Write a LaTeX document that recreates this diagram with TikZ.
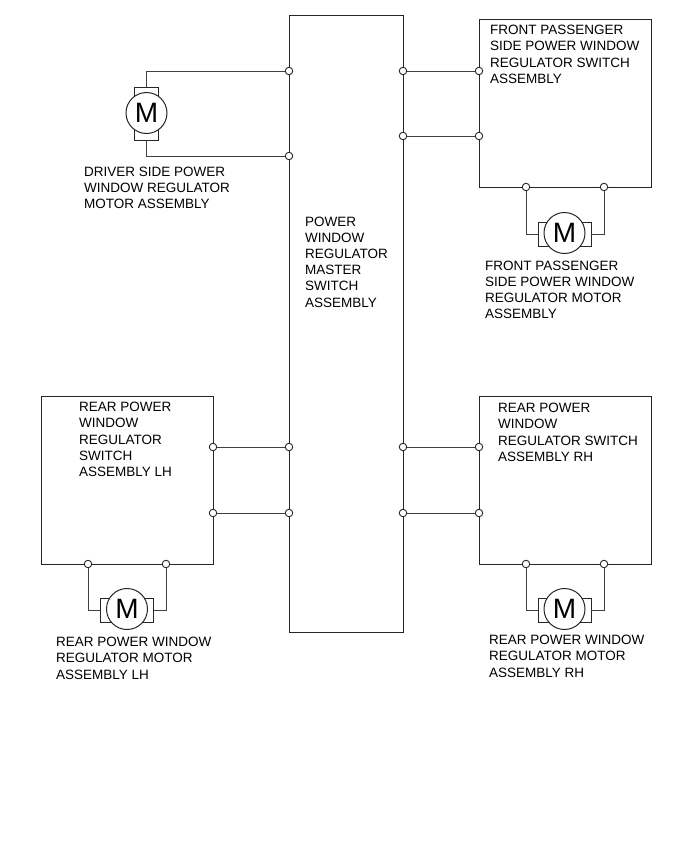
\documentclass[tikz,border=0pt]{standalone}
\usepackage{fontspec}
\setmainfont{Liberation Sans}
\usetikzlibrary{positioning}

\begin{document}
\begin{tikzpicture}[x=1pt, y=-1pt]
\tikzstyle{unit}=[draw=black!85, line width=1pt, inner sep=0pt, outer sep=0pt];
\tikzstyle{term}=[circle, draw=black!85, fill=white, line width=0.9pt, minimum size=7.5pt, inner sep=0pt, outer sep=0pt];
\tikzstyle{wire}=[black!75, line width=0.9pt];
\tikzstyle{brush}=[unit, fill=white, minimum width=53pt, minimum height=24pt];
\tikzstyle{vbrush}=[unit, fill=white, minimum width=24pt, minimum height=53pt];
\tikzstyle{motor}=[circle, draw=black!85, fill=white, line width=1pt, minimum size=41pt, inner sep=0pt, font=\fontsize{28}{28}\selectfont];
\tikzstyle{caption}=[anchor=north west, align=left, inner sep=0pt, font=\fontsize{13.5}{16.2}\selectfont];
\useasboundingbox (0,0) rectangle (691,854);

\node[unit, minimum width=114pt, minimum height=617pt] (master) at (346,323.5) {};
\node[unit, minimum width=172pt, minimum height=168pt] (front) at (565,103) {};
\node[unit, minimum width=172pt, minimum height=168pt] (rearl) at (127,480) {};
\node[unit, minimum width=172pt, minimum height=168pt] (rearr) at (565,480) {};

% motors
\node[vbrush] (drvb) at (146.5,113.5) {};
\node[motor] (drvm) at (146.5,113) {M};
\node[brush] (frontb) at (564.5,234) {};
\node[motor] (frontm) at (564.5,233) {M};
\node[brush] (rearlb) at (127,610) {};
\node[motor] (rearlm) at (127,609) {M};
\node[brush] (rearrb) at (564.5,610) {};
\node[motor] (rearrm) at (564.5,609) {M};

% terminals
\node[term] (ml1) at (289,71) {};
\node[term] (ml2) at (289,156) {};
\node[term] (ml3) at (289,447) {};
\node[term] (ml4) at (289,513) {};
\node[term] (mr1) at (403,71) {};
\node[term] (mr2) at (403,136) {};
\node[term] (mr3) at (403,447) {};
\node[term] (mr4) at (403,513) {};
\node[term] (front1) at (479,71) {};
\node[term] (front2) at (479,136) {};
\node[term] (front3) at (526,187) {};
\node[term] (front4) at (604,187) {};
\node[term] (rearl1) at (213,447) {};
\node[term] (rearl2) at (213,513) {};
\node[term] (rearl3) at (88,564) {};
\node[term] (rearl4) at (166,564) {};
\node[term] (rearr1) at (479,447) {};
\node[term] (rearr2) at (479,513) {};
\node[term] (rearr3) at (526,564) {};
\node[term] (rearr4) at (604,564) {};

\draw[wire] (ml1) -| (drvb.north);
\draw[wire] (ml2) -| (drvb.south);
\draw[wire] (mr1) -- (front1);
\draw[wire] (mr2) -- (front2);
\draw[wire] (ml3) -- (rearl1);
\draw[wire] (ml4) -- (rearl2);
\draw[wire] (mr3) -- (rearr1);
\draw[wire] (mr4) -- (rearr2);
\draw[wire] (front3) |- (frontb.west);
\draw[wire] (front4) |- (frontb.east);
\draw[wire] (rearl3) |- (rearlb.west);
\draw[wire] (rearl4) |- (rearlb.east);
\draw[wire] (rearr3) |- (rearrb.west);
\draw[wire] (rearr4) |- (rearrb.east);

% captions
\node[caption] (masterl) at (305,216.5) {POWER\\WINDOW\\REGULATOR\\MASTER\\SWITCH\\ASSEMBLY};
\node[caption] (drvl) at (84,166.5) {DRIVER SIDE POWER\\WINDOW REGULATOR\\MOTOR ASSEMBLY};
\node[caption] (frontl) at (490,25) {FRONT PASSENGER\\SIDE POWER WINDOW\\REGULATOR SWITCH\\ASSEMBLY};
\node[caption] (frontml) at (485,260.5) {FRONT PASSENGER\\SIDE POWER WINDOW\\REGULATOR MOTOR\\ASSEMBLY};
\node[caption] (rearll) at (79,402) {REAR POWER\\WINDOW\\REGULATOR\\SWITCH\\ASSEMBLY LH};
\node[caption] (rearlml) at (56,637) {REAR POWER WINDOW\\REGULATOR MOTOR\\ASSEMBLY LH};
\node[caption] (rearrl) at (498,403) {REAR POWER\\WINDOW\\REGULATOR SWITCH\\ASSEMBLY RH};
\node[caption] (rearrml) at (489,635) {REAR POWER WINDOW\\REGULATOR MOTOR\\ASSEMBLY RH};
\end{tikzpicture}
\end{document}
